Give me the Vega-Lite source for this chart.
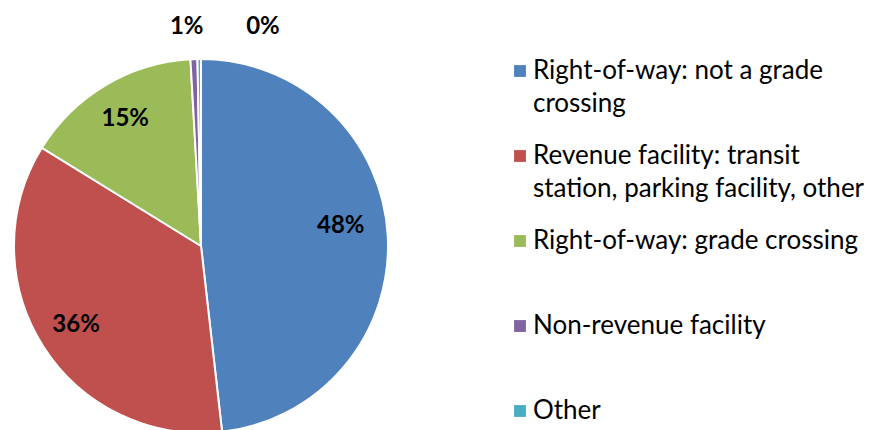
{
  "$schema": "https://vega.github.io/schema/vega-lite/v6.json",
  "width": 402,
  "height": 492,
  "padding": 0,
  "background": "white",
  "data": {
    "values": [
      {"rank": 1, "category": "Right-of-way: not a grade crossing", "share": 0.482},
      {"rank": 2, "category": "Revenue facility: transit station, parking facility, other", "share": 0.356},
      {"rank": 3, "category": "Right-of-way: grade crossing", "share": 0.153},
      {"rank": 4, "category": "Non-revenue facility", "share": 0.006},
      {"rank": 5, "category": "Other", "share": 0.003}
    ]
  },
  "encoding": {
    "theta": {"field": "share", "type": "quantitative", "stack": true},
    "order": {"field": "rank", "type": "quantitative"}
  },
  "layer": [
    {
      "mark": {"type": "arc", "outerRadius": 187, "stroke": "white", "strokeWidth": 2},
      "encoding": {
        "color": {
          "field": "category",
          "type": "nominal",
          "sort": ["Right-of-way: not a grade crossing", "Revenue facility: transit station, parking facility, other", "Right-of-way: grade crossing", "Non-revenue facility", "Other"],
          "scale": {
            "domain": ["Right-of-way: not a grade crossing", "Revenue facility: transit station, parking facility, other", "Right-of-way: grade crossing", "Non-revenue facility", "Other"],
            "range": ["#4F81BD", "#C0504D", "#9BBB59", "#8064A2", "#4BACC6"]
          },
          "legend": {
            "title": null,
            "orient": "none",
            "legendX": 507,
            "legendY": 58,
            "symbolType": "square",
            "symbolSize": 140,
            "symbolStrokeWidth": 0,
            "labelFont": "Lato",
            "labelFontSize": 26,
            "labelColor": "#000000",
            "labelLimit": 400,
            "labelOffset": 0,
            "gridAlign": "all",
            "rowPadding": 26,
            "labelExpr": "datum.label == 'Right-of-way: not a grade crossing' ? ['Right-of-way: not a grade', 'crossing'] : datum.label == 'Revenue facility: transit station, parking facility, other' ? ['Revenue facility: transit', 'station, parking facility, other'] : datum.label"
          }
        }
      }
    },
    {
      "mark": {"type": "text", "radius": 148, "font": "Lato", "fontSize": 24, "fontWeight": "bold", "color": "black"},
      "encoding": {
        "text": {"condition": {"test": "datum.share >= 0.1 && datum.share < 0.4", "field": "share", "type": "quantitative", "format": ".0%"}, "value": ""}
      }
    },
    {
      "mark": {"type": "text", "radius": 140, "dy": -12, "font": "Lato", "fontSize": 24, "fontWeight": "bold", "color": "black"},
      "encoding": {
        "text": {"condition": {"test": "datum.share >= 0.4", "field": "share", "type": "quantitative", "format": ".0%"}, "value": ""}
      }
    },
    {
      "mark": {"type": "text", "radius": 219, "dx": -6, "font": "Lato", "fontSize": 24, "fontWeight": "bold", "color": "black"},
      "encoding": {
        "text": {"condition": {"test": "datum.category == 'Non-revenue facility'", "field": "share", "type": "quantitative", "format": ".0%"}, "value": ""}
      }
    },
    {
      "mark": {"type": "text", "radius": 219, "dx": 64, "font": "Lato", "fontSize": 24, "fontWeight": "bold", "color": "black"},
      "encoding": {
        "text": {"condition": {"test": "datum.category == 'Other'", "field": "share", "type": "quantitative", "format": ".0%"}, "value": ""}
      }
    }
  ],
  "config": {
    "view": {"stroke": null},
    "style": {"guide-label": {"lineHeight": 33}}
  }
}
